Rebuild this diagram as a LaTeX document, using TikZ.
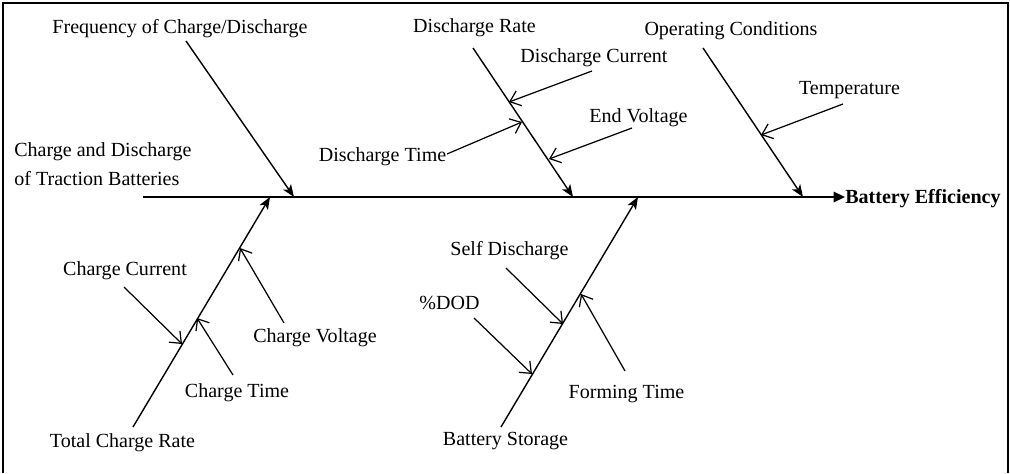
\documentclass[tikz,border=0pt]{standalone}
\usepackage{fontspec}
\setmainfont{Liberation Serif}
\usetikzlibrary{arrows.meta}
\begin{document}
\begin{tikzpicture}[x=0.02cm,y=-0.02cm,
  lbl/.style={inner sep=0pt,yshift=-0.04cm,font=\fontsize{11.4}{16.4}\selectfont},
  spine/.style={line width=0.8pt,-{Triangle[length=6.5pt,width=6pt]}},
  bone/.style={line width=0.8pt,-{Stealth[length=7pt,width=5.5pt,inset=1.8pt]}},
  cause/.style={line width=0.7pt,-{Straight Barb[length=5.5pt,width=9pt]}},
  frame/.style={line width=1pt}]
\useasboundingbox (0,0) rectangle (1010,473);
\draw[frame] (3,473) -- (3,3) -- (1008,3) -- (1008,473);
% labels
\node[lbl] (freq) at (180,27) {Frequency of Charge/Discharge};
\node[lbl,anchor=west,align=left] (cdt) at (14,162) {Charge and Discharge\\of Traction Batteries};
\node[lbl] (drate) at (474.5,26) {Discharge Rate};
\node[lbl] (dcur) at (594,56) {Discharge Current};
\node[lbl] (dtime) at (382.5,155) {Discharge Time};
\node[lbl] (endv) at (638.5,116) {End Voltage};
\node[lbl] (opc) at (731,29) {Operating Conditions};
\node[lbl] (temp) at (849.5,88) {Temperature};
\node[lbl,anchor=west,font=\fontsize{11.4}{13}\selectfont\bfseries] (beff) at (845,197) {Battery Efficiency};
\node[lbl] (ccur) at (125,269) {Charge Current};
\node[lbl] (ctime) at (237,391) {Charge Time};
\node[lbl] (cvolt) at (315,336) {Charge Voltage};
\node[lbl] (tcr) at (122.5,441) {Total Charge Rate};
\node[lbl] (selfd) at (509.5,249) {Self Discharge};
\node[lbl] (dod) at (449.5,301) {\%DOD};
\node[lbl] (formt) at (626.5,392) {Forming Time};
\node[lbl] (bstor) at (505.5,439) {Battery Storage};
% coordinates
\coordinate (spL) at (143,197);
\coordinate (fS) at (186,41);   \coordinate (fE) at (294,197);
\coordinate (rS) at (473,48);   \coordinate (rE) at (573,197);
\coordinate (oS) at (703,48);   \coordinate (oE) at (803,197);
\coordinate (tS) at (133,427);  \coordinate (tE) at (270,197);
\coordinate (bS) at (501,427);  \coordinate (bE) at (638,197);
\coordinate (dcS) at (592,71);  \coordinate (dcE) at (509,102);
\coordinate (dtS) at (447,154); \coordinate (dtE) at (522,122);
\coordinate (evS) at (632,128); \coordinate (evE) at (549,159);
\coordinate (tpS) at (843,104); \coordinate (tpE) at (761,135);
\coordinate (ccS) at (124,287); \coordinate (ccE) at (182,344);
\coordinate (ctS) at (233,375); \coordinate (ctE) at (197,318);
\coordinate (cvS) at (284,323); \coordinate (cvE) at (240,248);
\coordinate (sdS) at (506,268); \coordinate (sdE) at (563,324);
\coordinate (ddS) at (474,318); \coordinate (ddE) at (532,374);
\coordinate (ftS) at (625,371); \coordinate (ftE) at (581,294);
% spine and bones
\draw[spine] (spL) -- (beff.west |- spL);
\draw[bone] (fS) -- (fE);
\draw[bone] (rS) -- (rE);
\draw[bone] (oS) -- (oE);
\draw[bone] (tS) -- (tE);
\draw[bone] (bS) -- (bE);
% causes
\draw[cause] (dcS) -- (dcE);
\draw[cause] (dtS) -- (dtE);
\draw[cause] (evS) -- (evE);
\draw[cause] (tpS) -- (tpE);
\draw[cause] (ccS) -- (ccE);
\draw[cause] (ctS) -- (ctE);
\draw[cause] (cvS) -- (cvE);
\draw[cause] (sdS) -- (sdE);
\draw[cause] (ddS) -- (ddE);
\draw[cause] (ftS) -- (ftE);
\end{tikzpicture}
\end{document}
